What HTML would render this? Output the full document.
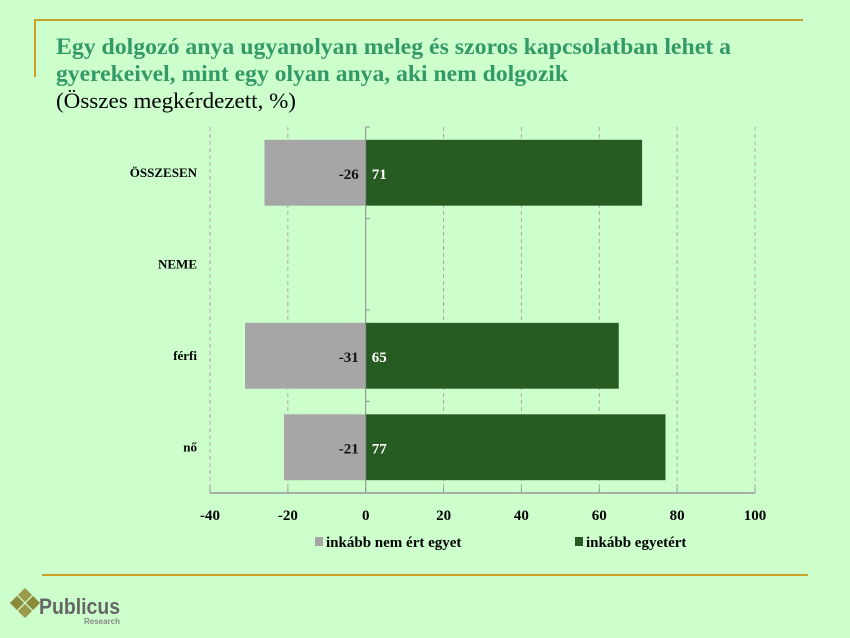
<!DOCTYPE html>
<html><head><meta charset="utf-8"><style>
body{margin:0;background:#ccffcc;}
svg{display:block;font-family:"Liberation Serif",serif;}
</style></head><body>
<svg width="850" height="638" viewBox="0 0 850 638">
<rect width="850" height="638" fill="#ccffcc"/>
<path d="M35 77 V20 H803" stroke="#c9a227" stroke-width="2" fill="none"/>
<text x="56" y="54" font-size="23" font-weight="bold" fill="#339966" textLength="675" lengthAdjust="spacingAndGlyphs">Egy dolgozó anya ugyanolyan meleg és szoros kapcsolatban lehet a</text>
<text x="56" y="81" font-size="23" font-weight="bold" fill="#339966" textLength="512" lengthAdjust="spacingAndGlyphs">gyerekeivel, mint egy olyan anya, aki nem dolgozik</text>
<text x="56" y="108" font-size="22" fill="#000" textLength="240" lengthAdjust="spacingAndGlyphs">(Összes megkérdezett, %)</text>
<g id="plot"></g>
<line x1="42" y1="575" x2="808" y2="575" stroke="#c9a227" stroke-width="2"/>
<g>
<rect x="20" y="590" width="10" height="10" fill="#9a9a4a" transform="rotate(45 25 595)"/>
<rect x="28" y="598" width="10" height="10" fill="#8a8a3a" transform="rotate(45 33 603)"/>
<rect x="12" y="598" width="10" height="10" fill="#8a8a3a" transform="rotate(45 17 603)"/>
<rect x="20" y="606" width="10" height="10" fill="#9a9a4a" transform="rotate(45 25 611)"/>
<text x="39" y="614" font-family="Liberation Sans,sans-serif" font-size="22" font-weight="bold" fill="#666" textLength="81" lengthAdjust="spacingAndGlyphs">Publicus</text>
<text x="120" y="624" text-anchor="end" font-family="Liberation Sans,sans-serif" font-size="8" font-weight="bold" fill="#888">Research</text>
</g>
</svg>
<script>
const categories=["ÖSSZESEN","NEME","férfi","nő"];
const disagree=[-26,null,-31,-21];
const agree=[71,null,65,77];
const xTicks=[-40,-20,0,20,40,60,80,100];
const seriesNames=["inkább nem ért egyet","inkább egyetért"];
const NS="http://www.w3.org/2000/svg";
const plotG=document.getElementById('plot');
const px0=210,px1=755,vmin=-40,vmax=100,pTop=127,pBottom=493;
const band=(pBottom-pTop)/categories.length;
const X=v=>px0+(v-vmin)/(vmax-vmin)*(px1-px0);
const Y=i=>pTop+band*i;
function mk(tag,attrs,text){const e=document.createElementNS(NS,tag);for(const k in attrs)e.setAttribute(k,attrs[k]);if(text!=null)e.textContent=text;plotG.appendChild(e);return e;}
xTicks.forEach(t=>{
 if(t!==0){const l=mk('line',{x1:X(t),x2:X(t),y1:pTop,y2:pBottom,stroke:'#aaa','stroke-dasharray':'4 3','stroke-width':1});
 
 }
 const tk=mk('line',{x1:X(t),x2:X(t),y1:pBottom-5,y2:pBottom,stroke:'#999'});
 
 
 const tl=mk('text',{x:X(t),y:pBottom+27,'text-anchor':'middle','font-size':15,'font-weight':'bold'},String(t));
 
 
});
const ax=mk('line',{x1:px0,x2:px1,y1:pBottom,y2:pBottom,stroke:'#999','stroke-width':1.5});


const bh=band*0.72;
categories.forEach((c,i)=>{
 const cy=Y(i)+band/2;
 const cl=mk('text',{x:197,y:cy+4,'text-anchor':'end','font-size':13,'font-weight':'bold'},c);
 
 
 if(disagree[i]!=null){
  const r=mk('rect',{x:X(disagree[i]),y:cy-bh/2,width:X(0)-X(disagree[i]),height:bh,fill:'#a6a6a6'});
  
  
  const t=mk('text',{x:X(0)-7,y:cy+6,'text-anchor':'end','font-size':15,'font-weight':'bold',fill:'#111'},String(disagree[i]));
  
  
 }
 if(agree[i]!=null){
  const r=mk('rect',{x:X(0),y:cy-bh/2,width:X(agree[i])-X(0),height:bh,fill:'#265c22'});
  
  
  const t=mk('text',{x:X(0)+6,y:cy+6,'font-size':15,'font-weight':'bold',fill:'#fff'},String(agree[i]));
  
  
 }
 const ct=mk('line',{x1:X(0),x2:X(0)+4,y1:Y(i),y2:Y(i),stroke:'#888'});
 
 
});
const ya=mk('line',{x1:X(0),x2:X(0),y1:pTop,y2:pBottom,stroke:'#888'});


const lx=[315,575],cols=['#a6a6a6','#265c22'];
seriesNames.forEach((s,k)=>{
 const r=mk('rect',{x:lx[k],y:537,width:8,height:9,fill:cols[k]});
 
 
 const t=mk('text',{x:lx[k]+11,y:547,'font-size':15,'font-weight':'bold'},s);
 
 
});
</script>
</body></html>
